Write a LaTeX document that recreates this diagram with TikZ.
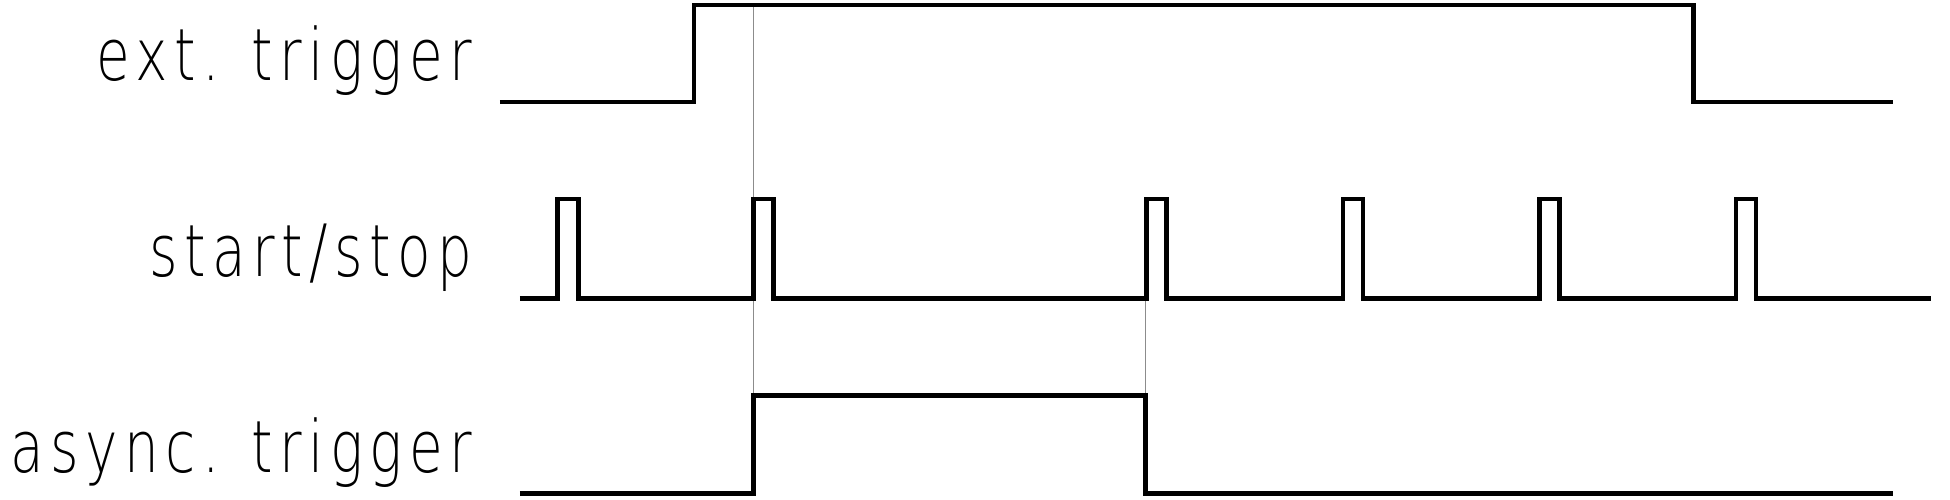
\documentclass[tikz,border=0pt]{standalone}
\usepackage{fontspec}
\newfontfamily\lab{DejaVu Sans ExtraLight}[LetterSpace=9,FakeStretch=0.76]
\begin{document}
\begin{tikzpicture}[x=0.5pt,y=-0.5pt,
  wave/.style={line width=1.9pt, line join=miter},
  guide/.style={black!45, line width=0.4pt},
  lbl/.style={anchor=base east, inner sep=0pt, font=\lab\fontsize{29}{32}\selectfont}]
\useasboundingbox (0,0) rectangle (1568,402);
\fill[white] (0,0) rectangle (1568,402);
% guides
\draw[guide] (606,4) -- (606,318);
\draw[guide] (921,240) -- (921,318);
% labels
\node[lbl] (lext) at (380,65) {ext. trigger};
\node[lbl] (lss) at (380,222) {start/stop};
\node[lbl] (lasy) at (380,380) {async. trigger};
% ext trigger
\draw[wave] (402,82) -- (558,82) -- (558,4) -- (1362,4) -- (1362,82) -- (1522,82);
% start/stop
\draw[wave] (418,240)
  -- (448,240) -- (448,160) -- (465,160) -- (465,240)
  -- (606,240) -- (606,160) -- (622,160) -- (622,240)
  -- (922,240) -- (922,160) -- (938,160) -- (938,240)
  -- (1080,240) -- (1080,160) -- (1096,160) -- (1096,240)
  -- (1238,240) -- (1238,160) -- (1254,160) -- (1254,240)
  -- (1396,240) -- (1396,160) -- (1412,160) -- (1412,240)
  -- (1553,240);
% async trigger
\draw[wave] (418,397) -- (606,397) -- (606,318) -- (921,318) -- (921,397) -- (1522,397);
\end{tikzpicture}
\end{document}
